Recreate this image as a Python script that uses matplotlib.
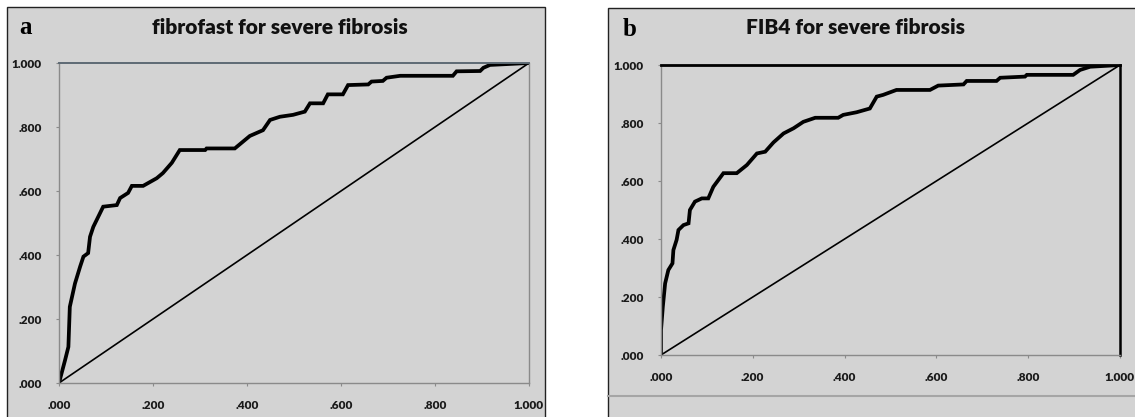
import matplotlib.pyplot as plt
from matplotlib.patches import Rectangle
from matplotlib.lines import Line2D

# ############ #
# Data (ROC)   #
# ############ #
tick_values = [0.0, 0.2, 0.4, 0.6, 0.8, 1.0]
tick_labels = ['.000', '.200', '.400', '.600', '.800', '1.000']

titles = ['fibrofast for severe fibrosis', 'FIB4 for severe fibrosis']
panel_letters = ['a', 'b']

# fibrofast: 1 - specificity, sensitivity
fibrofast_x = [0.0, 0.013, 0.020, 0.023, 0.034, 0.045, 0.052, 0.062, 0.066, 0.073,
               0.087, 0.094, 0.123, 0.130, 0.147, 0.155, 0.179, 0.208, 0.221, 0.240,
               0.257, 0.311, 0.314, 0.374, 0.406, 0.434, 0.449, 0.470, 0.498, 0.523,
               0.534, 0.562, 0.572, 0.604, 0.615, 0.658, 0.665, 0.689, 0.697, 0.726,
               0.838, 0.846, 0.896, 0.903, 0.917, 1.0]
fibrofast_y = [0.0, 0.072, 0.113, 0.238, 0.311, 0.364, 0.395, 0.406, 0.457, 0.488,
               0.530, 0.551, 0.556, 0.578, 0.594, 0.616, 0.616, 0.640, 0.656, 0.688,
               0.728, 0.728, 0.733, 0.733, 0.772, 0.790, 0.822, 0.832, 0.838, 0.848,
               0.874, 0.874, 0.902, 0.902, 0.931, 0.933, 0.942, 0.944, 0.954, 0.960,
               0.960, 0.974, 0.975, 0.985, 0.994, 1.0]

# FIB4
fib4_x = [0.0, 0.0, 0.004, 0.009, 0.016, 0.025, 0.027, 0.034, 0.038, 0.049,
          0.060, 0.063, 0.074, 0.089, 0.103, 0.114, 0.136, 0.165, 0.187, 0.209,
          0.227, 0.245, 0.267, 0.289, 0.310, 0.336, 0.386, 0.397, 0.426, 0.455,
          0.470, 0.484, 0.513, 0.586, 0.604, 0.659, 0.666, 0.731, 0.739, 0.793,
          0.797, 0.898, 0.913, 0.935, 1.0]
fib4_y = [0.0, 0.086, 0.167, 0.247, 0.293, 0.316, 0.362, 0.397, 0.431, 0.448,
          0.454, 0.500, 0.529, 0.540, 0.540, 0.580, 0.627, 0.627, 0.655, 0.695,
          0.701, 0.733, 0.764, 0.782, 0.804, 0.818, 0.818, 0.828, 0.837, 0.850,
          0.891, 0.897, 0.914, 0.914, 0.929, 0.933, 0.945, 0.945, 0.956, 0.960,
          0.966, 0.966, 0.983, 0.994, 1.0]

ref_line = [0.0, 1.0]

# ############ #
# Styling      #
# ############ #
W, H = 1135, 417
BG = '#d3d3d3'
SPINE = '#8a8a8a'
SANS = ['Lato', 'DejaVu Sans']
SERIF = ['Liberation Serif', 'DejaVu Serif']


def fig_box(px_left, px_top, px_w, px_h):
    """pixel box (origin top-left) -> figure fraction rect"""
    return [px_left / W, (H - px_top - px_h) / H, px_w / W, px_h / H]


def draw_panel_bg(fig, left, top, right, bottom):
    rect = Rectangle((left / W, (H - bottom) / H), (right - left) / W, (bottom - top) / H,
                     transform=fig.transFigure, facecolor=BG, edgecolor='#222222',
                     linewidth=1.0, zorder=-5)
    fig.patches.append(rect)


def roc_axes(fig, box, x, y, title, letter, letter_xy, title_xy, spine_top, spine_right):
    ax = fig.add_axes(box, zorder=2)
    ax.set_facecolor(BG)
    ax.plot(ref_line, ref_line, color='black', linewidth=1.2, solid_capstyle='butt')
    ax.plot(x, y, color='black', linewidth=2.7, solid_joinstyle='miter')
    ax.set_xlim(0, 1)
    ax.set_ylim(0, 1)
    ax.set_xticks(tick_values)
    ax.set_yticks(tick_values)
    ax.set_xticklabels(tick_labels, family=SANS, fontweight='heavy', fontsize=8.5, color='#1a1a1a')
    ax.set_yticklabels(tick_labels, family=SANS, fontweight='heavy', fontsize=8.5, color='#1a1a1a')
    ax.tick_params(axis='both', length=2.5, width=0.8, color=SPINE, pad=10)
    for side in ['left', 'bottom']:
        ax.spines[side].set_color(SPINE)
        ax.spines[side].set_linewidth(1.0)
    ax.spines['top'].set_color(spine_top[0])
    ax.spines['top'].set_linewidth(spine_top[1])
    ax.spines['right'].set_color(spine_right[0])
    ax.spines['right'].set_linewidth(spine_right[1])
    for sp in ax.spines.values():
        sp.set_zorder(5)

    fig.text(title_xy[0] / W, 1 - title_xy[1] / H, title, family=SANS, fontweight='heavy',
             fontsize=15, ha='center', va='center', color='#111111')
    fig.text(letter_xy[0] / W, 1 - letter_xy[1] / H, letter, family=SERIF, fontweight='bold',
             fontsize=18, ha='center', va='center', color='black')
    return ax


# ############################# #
# MAIN                          #
# ############################# #
def main():
    fig = plt.figure(figsize=(W / 100, H / 100), dpi=100)
    fig.patch.set_facecolor('white')

    # grey panel backgrounds (they run off the bottom / right of the image)
    draw_panel_bg(fig, 7, 7, 545, 425)
    draw_panel_bg(fig, 608, 8, 1145, 425)
    fig.lines.append(Line2D([608 / W, 1], [1 - 396 / H, 1 - 396 / H], transform=fig.transFigure,
                            color='#a5a5a5', linewidth=1.5, zorder=-4))

    roc_axes(fig, fig_box(59, 63, 470, 320), fibrofast_x, fibrofast_y, titles[0], panel_letters[0],
             (25, 27), (280, 27), ('#5d6a74', 1.4), (SPINE, 1.0))
    roc_axes(fig, fig_box(661, 65, 459, 290), fib4_x, fib4_y, titles[1], panel_letters[1],
             (630, 30), (855, 27), ('black', 2.0), ('black', 1.8))

    fig.savefig('out.png', dpi=100, facecolor='white')


if __name__ == "__main__":
    main()
